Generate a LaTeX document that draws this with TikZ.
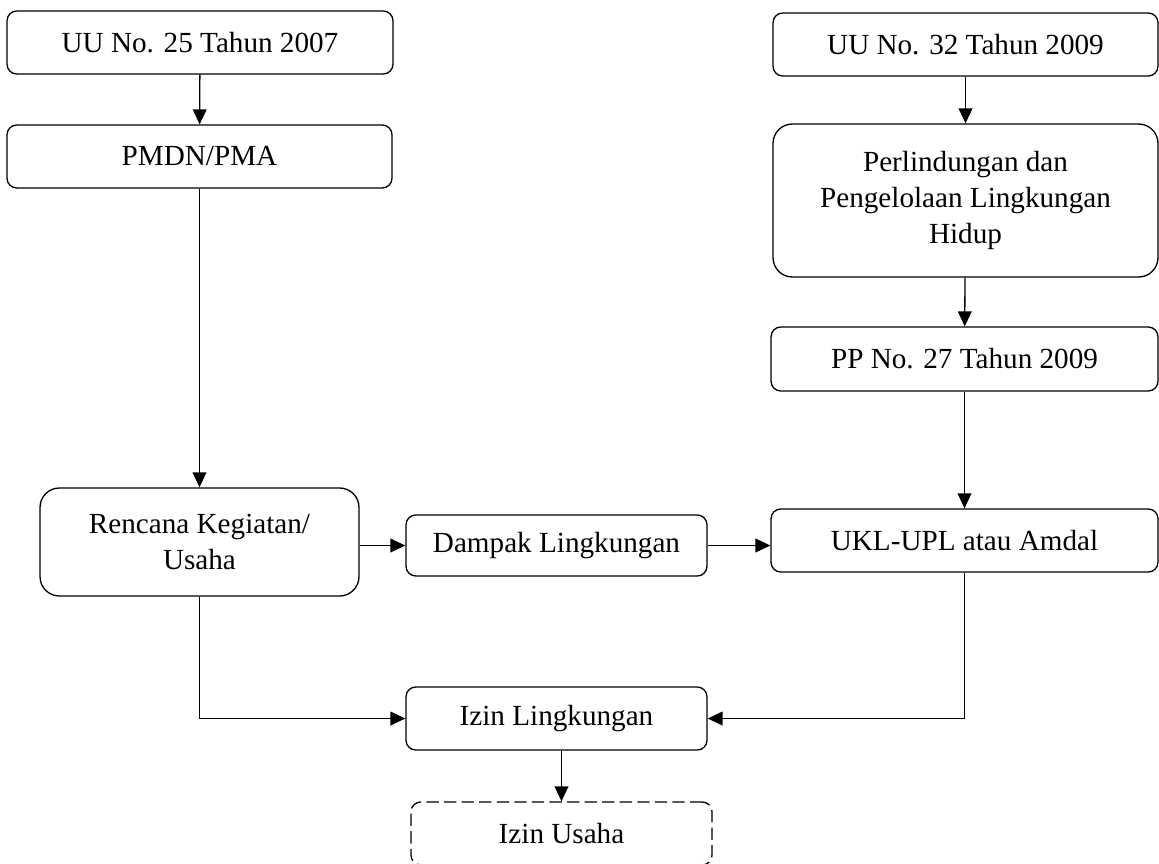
\documentclass[tikz,border=0pt]{standalone}
\usepackage{fontspec}
\setmainfont{Liberation Serif}
\usetikzlibrary{arrows.meta}
\begin{document}
\begin{tikzpicture}[x=0.02cm,y=-0.02cm,
    font=\fontsize{16.6}{20.4}\selectfont,
    box/.style={draw,line width=0.75pt,rounded corners=5.5pt,align=center,inner sep=0pt},
    bigbox/.style={box,rounded corners=11pt},
    flow/.style={line width=0.75pt,-{Triangle[length=8.5pt,width=7.8pt]}}]
  \useasboundingbox[fill=white] (0,0) rectangle (1159,863);
  % left column
  \node[box,minimum width=7.72cm,minimum height=1.26cm] (uuA) at (200,42.5) {UU No. 25 Tahun 2007};
  \node[box,minimum width=7.70cm,minimum height=1.26cm] (pmdn) at (199.5,156.5) {PMDN/PMA};
  \node[bigbox,minimum width=6.38cm,minimum height=2.16cm] (rencana) at (199.5,542) {Rencana Kegiatan/\\Usaha};
  % right column
  \node[box,minimum width=7.70cm,minimum height=1.26cm] (uuB) at (965.5,44.5) {UU No. 32 Tahun 2009};
  \node[bigbox,minimum width=7.70cm,minimum height=3.06cm] (plh) at (965.5,200.5) {Perlindungan dan\\Pengelolaan Lingkungan\\Hidup};
  \node[box,minimum width=7.74cm,minimum height=1.28cm] (pp) at (964.5,359) {PP No. 27 Tahun 2009};
  \node[box,minimum width=7.74cm,minimum height=1.26cm] (ukl) at (964.5,540.5) {UKL-UPL atau Amdal};
  % middle
  \node[box,minimum width=6.02cm,minimum height=1.22cm] (dampak) at (556.5,545.5) {Dampak Lingkungan};
  \node[box,minimum width=6.02cm,minimum height=1.26cm] (izinL) at (556.5,718.5) {Izin Lingkungan};
  \node[box,dashed,dash pattern=on 7pt off 3pt,minimum width=6.02cm,minimum height=1.26cm] (izinU) at (561.5,833.5) {Izin Usaha};
  % arrows
  \draw[flow] (uuA) -- (pmdn);
  \draw[flow] (pmdn) -- (rencana);
  \draw[flow] (uuB) -- (plh);
  \draw[flow] (plh) -- (pp);
  \draw[flow] (pp) -- (ukl);
  \draw[flow] (rencana.east |- dampak.west) -- (dampak.west);
  \draw[flow] (dampak.east) -- (dampak.east -| ukl.west);
  \draw[flow] (rencana.south) |- (izinL.west);
  \draw[flow] (ukl.south) |- (izinL.east);
  \draw[flow] (izinU.north |- izinL.south) -- (izinU.north);
\end{tikzpicture}
\end{document}
